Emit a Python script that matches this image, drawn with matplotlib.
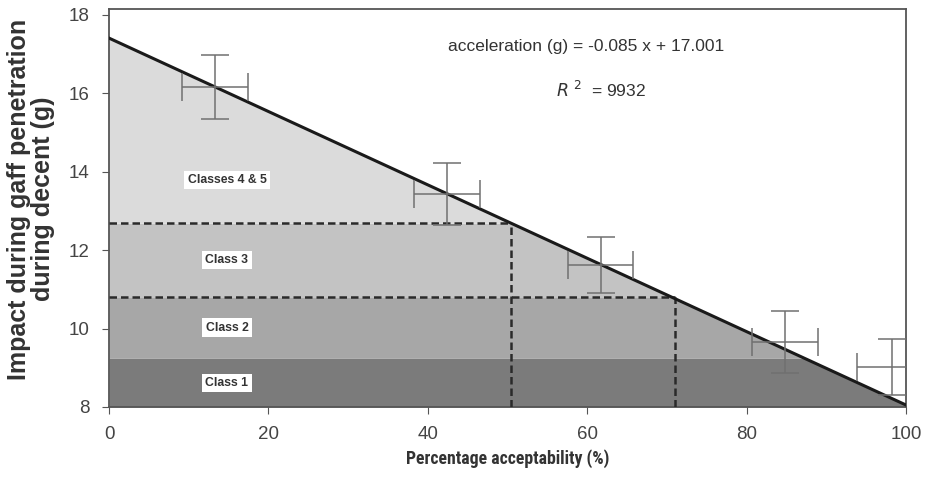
import numpy as np
import matplotlib.pyplot as plt
from matplotlib import font_manager

# measured points (mean +/- error)
acc_x = [13.3, 42.4, 61.7, 84.8, 98.2]
acc_y = [16.16, 13.43, 11.62, 9.66, 9.02]
x_err = [4.1, 4.1, 4.1, 4.1, 4.3]
y_err = [0.82, 0.79, 0.72, 0.80, 0.71]

# regression line endpoints as drawn
fit_x = [0, 100]
fit_y = [17.41, 8.05]

# class boundaries (g) and the acceptability where they meet the line
class_bounds = [8.0, 9.25, 10.81, 12.69, 18.0]
class_names = ["Class 1", "Class 2", "Class 3", "Classes 4 & 5"]
class_colors = ["#7b7b7b", "#a7a7a7", "#c3c3c3", "#dbdbdb"]
cut_x = [50.4, 71.0]
cut_y = [12.69, 10.81]
label_x = 14.8
label_y = [8.61, 10.02, 11.75, 13.79]

plt.rcParams['font.family'] = ['Liberation Sans', 'DejaVu Sans']

# narrow face for the x label if one is there
installed = {f.name for f in font_manager.fontManager.ttflist}
narrow = [n for n in ['Liberation Sans Narrow', 'Roboto Condensed', 'Arial Narrow'] if n in installed]
xlab_family = narrow[:1] + ['Liberation Sans']
xlab_size = 12.8 if narrow else 11.5

fig = plt.figure(figsize=(9.35, 4.92), dpi=100)
ax = fig.add_axes([0.1166, 0.1728, 0.8524, 0.8079])

xs = np.linspace(0, 100, 400)
line = np.interp(xs, fit_x, fit_y)
for lo, hi, col in zip(class_bounds[:-1], class_bounds[1:], class_colors):
    top = np.minimum(line, hi)
    ax.fill_between(xs, lo, top, where=line > lo, color=col, lw=0, zorder=1)

# dashed class limits
dash_kw = dict(color="#2a2a2a", lw=1.8, ls=(0, (3, 1.6)), zorder=3)
for cx, cy in zip(cut_x, cut_y):
    ax.plot([0, cx], [cy, cy], **dash_kw)
    ax.plot([cx, cx], [8, cy], **dash_kw)

ax.plot(fit_x, fit_y, color="#1a1a1a", lw=2.2, zorder=4)

ax.errorbar(acc_x, acc_y, xerr=x_err, yerr=y_err, fmt="none",
            ecolor="#707070", elinewidth=1.1, capsize=10, capthick=1.1, zorder=5)

for name, ly in zip(class_names, label_y):
    ax.text(label_x, ly, name, ha="center", va="center", fontsize=8.8,
            fontweight="bold", color="#333333", zorder=6,
            bbox=dict(facecolor="white", edgecolor="none", pad=2.5))

ax.text(0.599, 0.906, "acceleration (g) = -0.085 x + 17.001", transform=ax.transAxes,
        ha="center", va="center", fontsize=12.5, color="#333333")
ax.text(0.617, 0.797, r"$R^{\ 2}$  = 9932", transform=ax.transAxes,
        ha="center", va="center", fontsize=12.5, color="#333333")

ax.set_xlim(0, 100)
ax.set_ylim(8, 18.14)
ax.set_xticks([0, 20, 40, 60, 80, 100])
ax.set_yticks([8, 10, 12, 14, 16, 18])
ax.tick_params(labelsize=13.5, labelcolor="#444444", color="#555555", length=5, direction="out")
ax.tick_params(axis="y", pad=9)
ax.tick_params(axis="x", pad=9)
for s in ax.spines.values():
    s.set_color("#555555")
    s.set_linewidth(1.3)

ax.set_xlabel("Percentage acceptability (%)", fontsize=xlab_size, fontweight="bold",
              color="#333333", family=xlab_family)
ax.xaxis.set_label_coords(0.5, -0.131)
ax.set_ylabel("Impact during gaff penetration\nduring decent (g)", fontsize=18,
              fontweight="bold", color="#333333", linespacing=1.0)
ax.yaxis.set_label_coords(-0.098, 0.523)
ax.yaxis.label.set_va("center")
ax.xaxis.label.set_va("center")

fig.savefig("out.png", dpi=100)
